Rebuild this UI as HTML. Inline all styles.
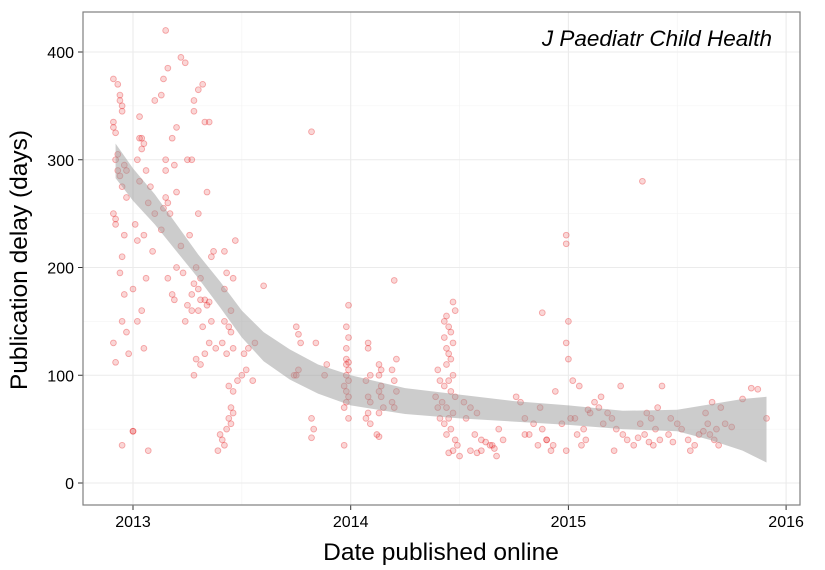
<!DOCTYPE html>
<html><head><meta charset="utf-8"><style>
body{margin:0;background:#fff;}
svg{display:block;font-family:"Liberation Sans",sans-serif;}
</style></head><body>
<svg id="chart" width="825" height="570" viewBox="0 0 825 570">
<rect x="83" y="12" width="717" height="493" fill="#fff"/>
<g id="grid"></g><g id="pts"></g><g id="band"></g><g id="axes"></g>
<rect x="83" y="12" width="717" height="493" fill="none" stroke="#7f7f7f" stroke-width="1.2"/>
<text x="772" y="46" text-anchor="end" font-size="22.5" font-style="italic" fill="#000">J Paediatr Child Health</text>
<text x="441" y="560" text-anchor="middle" font-size="24.5" fill="#000">Date published online</text>
<text transform="translate(27,260) rotate(-90)" text-anchor="middle" font-size="24.5" fill="#000">Publication delay (days)</text>
</svg>
<script>
const xTicks=[2013,2014,2015,2016];
const yTicks=[0,100,200,300,400];
const bandX=[2012.92,2013.0,2013.1,2013.2,2013.3,2013.4,2013.5,2013.6,2013.72,2013.85,2014.0,2014.25,2014.5,2014.75,2015.0,2015.25,2015.5,2015.65,2015.8,2015.91];
const bandLow=[283,262,240,215,190,163,135,113,96,83,72,64,60,57,54,50,48,40,30,19];
const bandHigh=[315,292,268,240,212,187,160,140,124,110,100,88,82,76,72,67,68,73,78,80];
const dates=[2012.91,2012.91,2012.92,2012.92,2012.93,2012.93,2012.91,2012.92,2012.92,2012.91,2012.92,2012.91,2012.93,2012.94,2012.94,2012.95,2012.95,2012.96,2012.94,2012.95,2012.97,2012.96,2012.95,2012.94,2012.96,2012.95,2012.97,2012.98,2012.95,2012.97,
2013.0,2013.0,2013.03,2013.04,2013.05,2013.04,2013.02,2013.06,2013.03,2013.08,2013.07,2013.1,2013.01,2013.05,2013.02,2013.09,2013.06,2013.0,2013.04,2013.02,2013.05,2013.07,2013.03,2013.1,
2013.15,2013.22,2013.24,2013.16,2013.14,2013.13,2013.28,2013.2,2013.18,2013.15,2013.25,2013.19,2013.15,2013.2,2013.15,2013.16,2013.14,2013.17,2013.13,2013.22,2013.2,2013.23,2013.16,2013.18,2013.19,2013.25,2013.27,2013.24,
2013.32,2013.3,2013.28,2013.33,2013.35,2013.27,2013.34,2013.3,2013.26,2013.37,2013.36,2013.29,2013.31,2013.28,2013.3,2013.27,2013.31,2013.33,2013.35,2013.34,2013.3,2013.36,2013.32,2013.35,2013.33,2013.29,2013.31,2013.28,2013.38,
2013.39,2013.42,2013.41,2013.4,2013.43,2013.45,2013.44,2013.46,2013.45,2013.44,2013.46,2013.48,2013.5,2013.43,2013.46,2013.41,2013.45,2013.44,2013.42,2013.45,2013.42,2013.46,2013.43,2013.42,2013.47,
2013.52,2013.55,2013.53,2013.51,2013.56,2013.6,
2013.75,2013.76,2013.77,2013.75,2013.76,2013.74,2013.82,2013.82,2013.83,2013.82,2013.84,2013.88,2013.89,
2013.98,2013.99,2013.98,2013.99,2013.98,2013.99,2013.97,2013.98,2013.99,2013.98,2013.97,2013.99,2013.98,2013.99,2013.98,2013.99,2013.97,
2014.08,2014.08,2014.09,2014.07,2014.08,2014.09,2014.08,2014.07,2014.09,
2014.13,2014.14,2014.13,2014.14,2014.13,2014.14,2014.15,2014.13,2014.12,2014.13,
2014.2,2014.21,2014.19,2014.2,2014.21,2014.19,2014.2,
2014.4,2014.41,2014.39,2014.42,2014.4,2014.41,
2014.43,2014.44,2014.45,2014.46,2014.43,2014.47,2014.44,2014.45,2014.46,2014.44,2014.47,2014.45,2014.43,2014.46,2014.48,2014.44,2014.47,2014.45,2014.43,2014.46,2014.44,2014.48,2014.49,2014.47,2014.45,2014.5,2014.47,2014.48,
2014.52,2014.55,2014.58,2014.53,2014.57,2014.6,2014.62,2014.64,2014.66,2014.55,2014.58,2014.68,2014.7,2014.65,2014.6,2014.67,
2014.78,2014.8,2014.84,2014.88,2014.82,2014.9,2014.86,2014.92,2014.76,2014.94,2014.87,2014.88,2014.8,2014.9,2014.93,
2014.99,2014.99,2015.0,2014.99,2015.0,2015.02,2015.05,2015.03,2014.97,2015.07,2015.04,2015.08,2014.99,2015.06,2015.09,2015.1,2015.01,
2015.14,2015.18,2015.2,2015.16,2015.22,2015.25,2015.27,2015.3,2015.21,2015.12,2015.15,2015.24,
2015.34,2015.36,2015.38,2015.33,2015.4,2015.35,2015.32,2015.42,2015.37,2015.39,2015.43,2015.41,
2015.47,2015.5,2015.52,2015.46,2015.55,2015.48,2015.58,2015.56,2015.6,2015.62,2015.64,
2015.66,2015.7,2015.72,2015.68,2015.75,2015.65,2015.67,2015.69,2015.63,2015.8,2015.84,2015.87,2015.91];
const delays=[330,335,325,300,305,290,250,245,240,130,112,375,370,360,355,350,345,295,285,275,265,230,210,195,175,150,140,120,35,290,
48,48,320,320,315,310,300,290,280,275,260,250,240,230,225,215,190,180,160,150,125,30,340,355,
420,395,390,385,375,360,355,330,320,300,300,295,290,270,265,260,255,250,235,220,200,195,190,175,170,165,160,150,
370,365,345,335,335,300,270,250,230,215,210,200,190,185,180,175,170,170,168,165,160,150,145,130,120,115,110,100,125,
30,35,40,45,50,55,60,65,70,90,85,95,100,120,125,130,140,145,150,160,180,190,195,215,225,
105,95,125,120,130,183,
145,138,130,100,105,100,326,60,50,42,130,100,110,
100,105,110,112,115,95,90,85,80,75,70,60,125,135,145,165,35,
125,130,100,95,80,75,65,60,55,
110,105,100,90,85,80,70,65,45,43,
188,115,105,95,85,75,70,
105,95,80,75,70,60,
150,155,145,140,135,130,125,120,115,110,100,95,90,85,80,70,65,60,55,50,45,40,35,30,28,25,168,160,
75,70,65,60,45,40,38,35,32,30,28,50,40,35,30,25,
75,60,55,50,45,40,35,30,80,85,70,158,45,40,35,
230,222,150,130,115,95,90,60,55,50,45,40,30,35,68,65,60,
70,65,60,55,50,45,40,35,30,75,80,90,
280,65,60,55,50,45,42,40,38,35,90,70,
60,55,50,45,40,38,35,30,45,48,55,
75,70,55,50,52,45,40,35,65,78,88,87,60];
const NS='http://www.w3.org/2000/svg';
const X=v=>133+(v-2013)*217.7;
const Y=v=>483-v*1.0775;
function mk(tag,attrs,parent){const e=document.createElementNS(NS,tag);for(const k in attrs)e.setAttribute(k,attrs[k]);parent.appendChild(e);return e;}
const grid=document.getElementById('grid'),axes=document.getElementById('axes'),pts=document.getElementById('pts'),band=document.getElementById('band');
for(let i=0;i<yTicks.length-1;i++){const l=mk('line',{x1:83,x2:800,y1:Y((yTicks[i]+yTicks[i+1])/2),y2:Y((yTicks[i]+yTicks[i+1])/2),stroke:'#f2f2f2','stroke-width':0.6},grid);

}
for(let i=0;i<xTicks.length-1;i++){const l=mk('line',{y1:12,y2:505,x1:X((xTicks[i]+xTicks[i+1])/2),x2:X((xTicks[i]+xTicks[i+1])/2),stroke:'#f2f2f2','stroke-width':0.6},grid);

}
yTicks.forEach(t=>{const l=mk('line',{x1:83,x2:800,y1:Y(t),y2:Y(t),stroke:'#ebebeb','stroke-width':1.1},grid);


const tk=mk('line',{x1:78,x2:83,y1:Y(t),y2:Y(t),stroke:'#333','stroke-width':1},axes);


const tx=mk('text',{x:74,y:Y(t)+6,'text-anchor':'end','font-size':16,fill:'#000'},axes);tx.textContent=t;

});
xTicks.forEach(t=>{const l=mk('line',{y1:12,y2:505,x1:X(t),x2:X(t),stroke:'#ebebeb','stroke-width':1.1},grid);


const tk=mk('line',{y1:505,y2:510,x1:X(t),x2:X(t),stroke:'#333','stroke-width':1},axes);


const tx=mk('text',{x:X(t),y:527,'text-anchor':'middle','font-size':16,fill:'#000'},axes);tx.textContent=t;

});
dates.forEach((d,i)=>{const c=mk('circle',{cx:X(d),cy:Y(delays[i]),r:2.9,fill:'rgba(228,26,28,0.18)',stroke:'rgba(228,26,28,0.35)','stroke-width':0.9},pts);

});
let p='';bandX.forEach((x,i)=>{p+=(i?'L':'M')+X(x)+' '+Y(bandHigh[i]);});
for(let i=bandX.length-1;i>=0;i--)p+='L'+X(bandX[i])+' '+Y(bandLow[i]);
const b=mk('path',{d:p+'Z',fill:'#999','fill-opacity':0.5,stroke:'none'},band);


</script>
</body></html>
